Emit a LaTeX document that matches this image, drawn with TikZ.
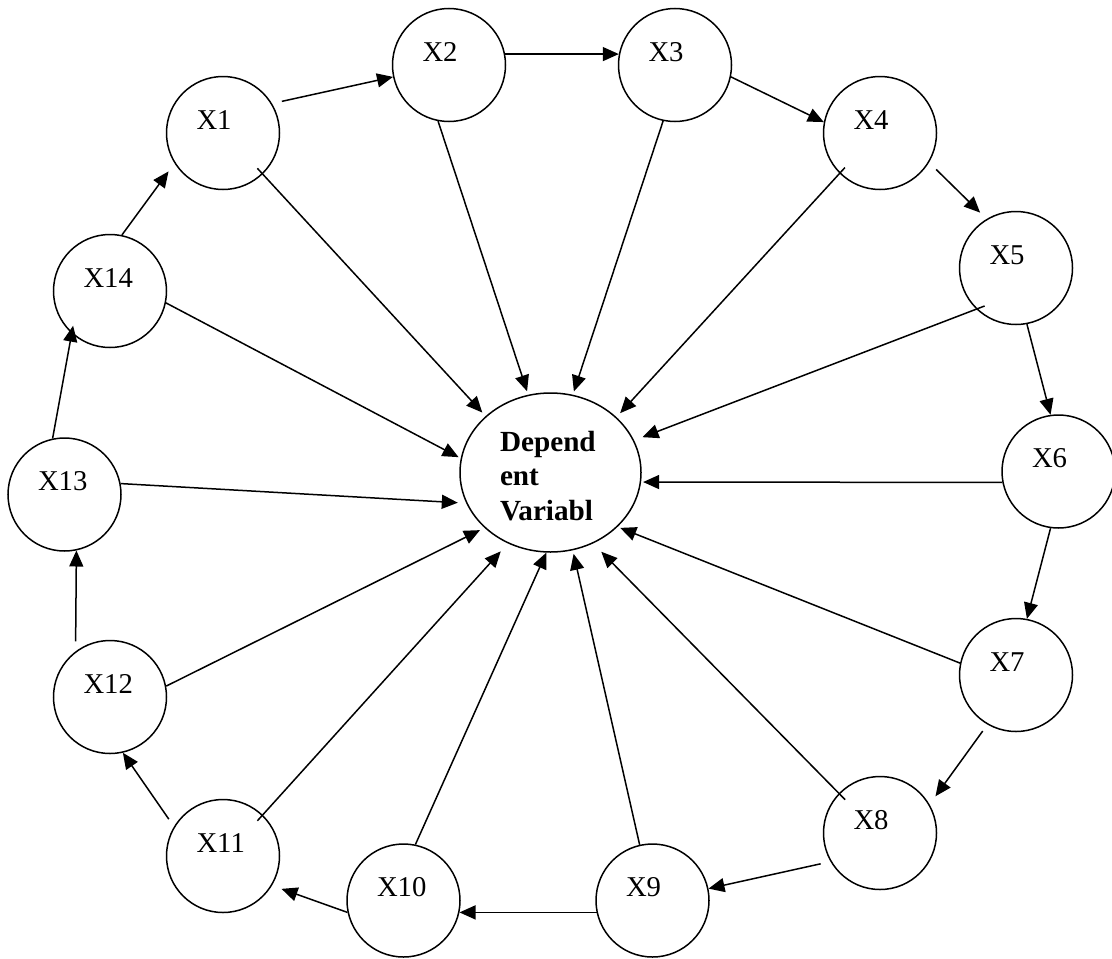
\documentclass[tikz,border=0pt]{standalone}
\usepackage{fontspec}
\setmainfont{Liberation Serif}
\usetikzlibrary{arrows.meta,shapes.geometric}

\begin{document}
\begin{tikzpicture}[x=0.5pt,y=-0.5pt,line width=0.75pt,
    font=\fontsize{14.35pt}{17.25pt}\selectfont]

      \useasboundingbox (0,0) rectangle (1112,958);

      \begin{scope}[every node/.style={circle,draw,minimum size=56.5pt,inner sep=0pt,
          text width=26.5pt,align=left,text height=9.5pt,text depth=13.5pt}]
        \node (x1)  at (223,133)     {X1};
        \node (x2)  at (449,65)      {X2};
        \node (x3)  at (675,65)      {X3};
        \node (x4)  at (880,133)     {X4};
        \node (x5)  at (1016,268)    {X5};
        \node (x6)  at (1058.5,471.5) {X6};
        \node (x7)  at (1016,675)    {X7};
        \node (x8)  at (880,833)     {X8};
        \node (x9)  at (652.5,900.5) {X9};
        \node (x10) at (403.5,900.5) {X10};
        \node (x11) at (223,856)     {X11};
        \node (x12) at (110,697)     {X12};
        \node (x13) at (64.5,494.5)  {X13};
        \node (x14) at (110,291)     {X14};
      \end{scope}

      \node[ellipse,draw,minimum width=90.5pt,minimum height=79.5pt,inner sep=0pt,
        text width=50.5pt,align=left,text height=13pt,text depth=34.5pt,
        font=\fontsize{14.6pt}{17.25pt}\selectfont\bfseries]
        (dv) at (550.5,472.5) {Depend\\ent\\Variabl};

      \begin{scope}[every edge/.style={draw,-{Triangle[length=8pt,width=7pt]}}]

        \path (x1.31)     edge[shorten <=5pt] (x2.192);
        \path (x2.11)     edge (x3.169);
        \path (x3.-12)    edge (x4.169);
        \path (x4.-31)    edge[shorten <=5pt,shorten >=4.5pt] (x5.121);
        \path (x5.-79)    edge (x6.98);
        \path (x6.-98)    edge (x7.79);
        \path (x7.-120)   edge[shorten <=4pt,shorten >=5pt] (x8.30);
        \path (x8.-150)   edge[shorten <=5pt] (x9.12);
        \path (x9.-168)   edge (x10.-12);
        \path (x10.-168)  edge[shorten >=5pt] (x11.-31);
        \path (x11.149)   edge[shorten <=4.5pt] (x12.-77);
        \path (x12.127)   edge[shorten <=5pt] (x13.-78);
        \path (x13.102)   edge[shorten >=-4pt] (x14.228);
        \path (x14.78)    edge[shorten >=5pt] (x1.212);

        \path (x1.-46)    edge[shorten <=-4pt,shorten >=2.4pt] (dv.139.5);
        \path (x2.-101)   edge[shorten >=1.8pt] (dv.106);
        \path (x3.-102)   edge[shorten >=1.7pt] (dv.74);
        \path (x4.-135)   edge[shorten <=-4pt,shorten >=2.7pt] (dv.40);
        \path (x5.-134)   edge[shorten <=-4.5pt,shorten >=4.5pt] (dv.21);
        \path (x6.191.5)  edge[shorten >=1pt] (dv.-6.5);
        \path (x7.168)    edge[shorten >=1.4pt] (dv.-39);
        \path (x8.136)    edge[shorten <=-4.5pt,shorten >=5.8pt] (dv.-59.5);
        \path (x9.103)    edge[shorten >=1.8pt] (dv.-74);
        \path (x10.78.5)  edge (dv.-93);
        \path (x11.46)    edge[shorten <=-4pt,shorten >=5.3pt] (dv.-121);
        \path (x12.11)    edge[shorten >=2.5pt] (dv.-140);
        \path (x13.11)    edge[shorten >=4.2pt] (dv.-160);
        \path (x14.-12)   edge[shorten >=1.2pt] (dv.171);

      \end{scope}

    \end{tikzpicture}
\end{document}
